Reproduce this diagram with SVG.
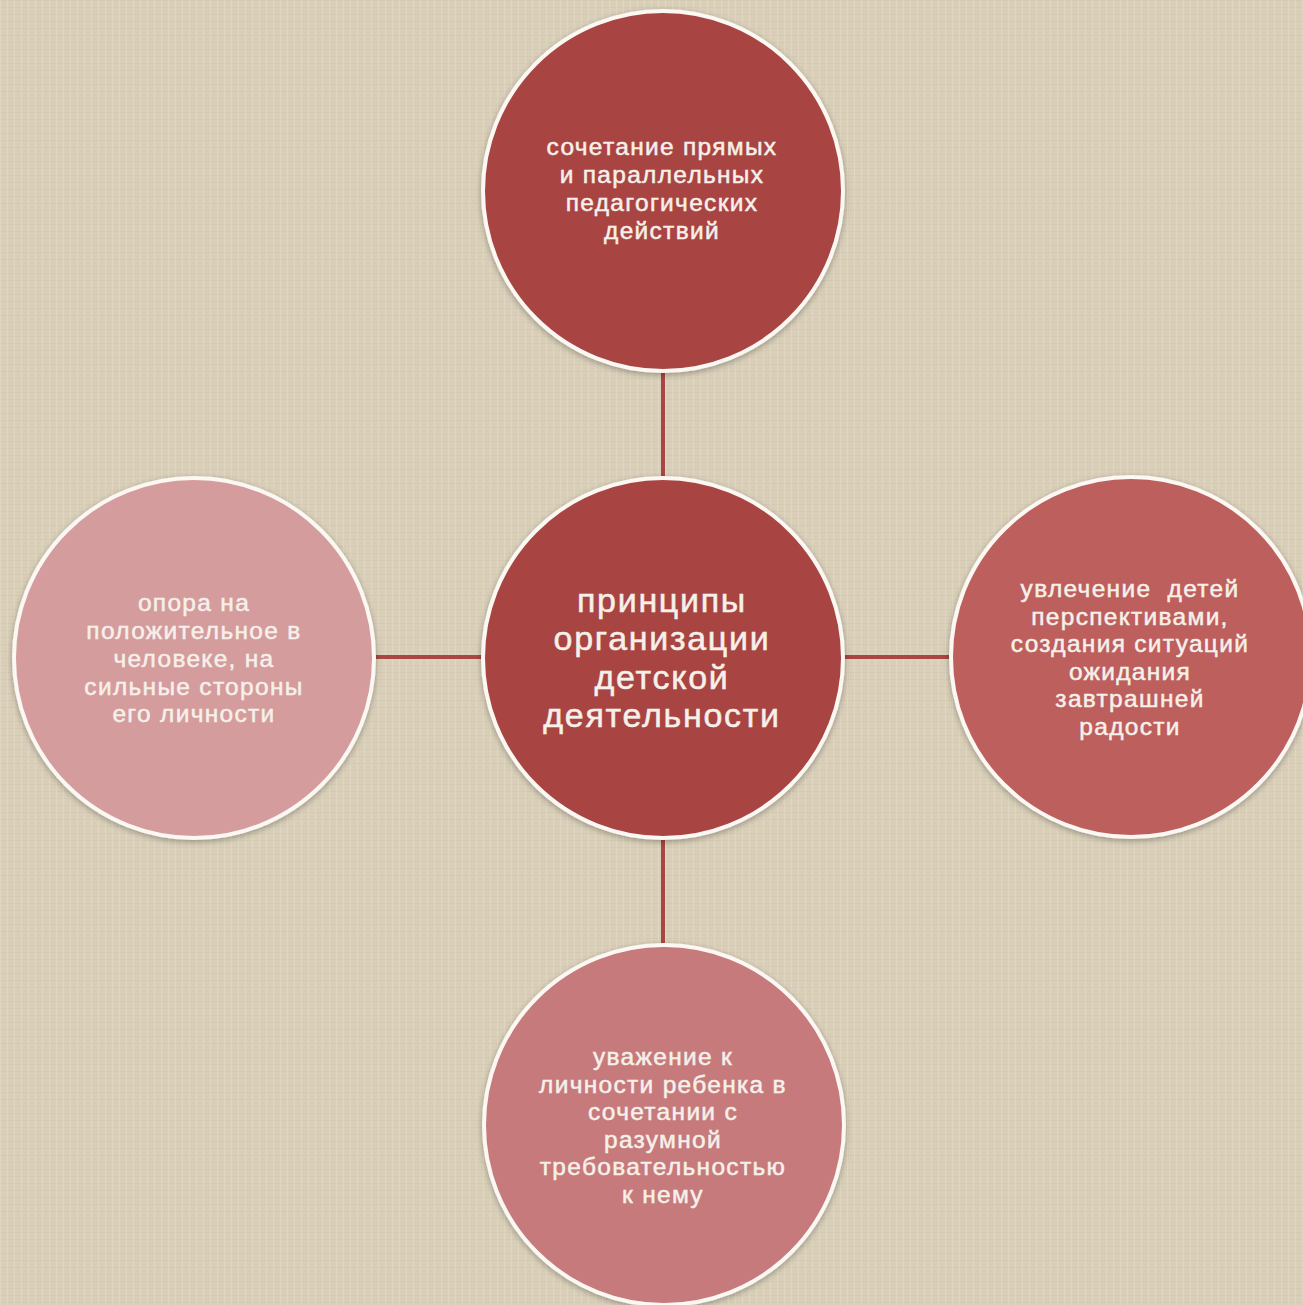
<svg xmlns="http://www.w3.org/2000/svg" width="1303" height="1305" viewBox="0 0 1303 1305">
<defs>
<pattern id="tex" width="7" height="7" patternUnits="userSpaceOnUse">
<rect width="7" height="7" fill="#dad0ba"/>
<rect x="0" y="0" width="7" height="1" fill="#cec3aa" opacity="0.5"/>
<rect x="0" y="0" width="1" height="7" fill="#e4dbc8" opacity="0.6"/>
<rect x="3" y="4" width="2" height="1" fill="#d0c6ae" opacity="0.5"/>
</pattern>
<filter id="sh" x="-10%" y="-10%" width="120%" height="120%">
<feDropShadow dx="0" dy="2" stdDeviation="3" flood-color="#000" flood-opacity="0.3"/>
</filter>
</defs>
<style>
.node circle{stroke:#fbf7f2;stroke-width:4;filter:url(#sh)}
.t{font-family:"Liberation Sans",Arial,sans-serif;fill:#f6f0ea;stroke:#f6f0ea;stroke-width:0.5;text-anchor:middle;font-size:24.5px;letter-spacing:1.3px}
.c{font-size:34px;letter-spacing:1.7px}
.pre{white-space:pre}
.con line{stroke:#a94643;stroke-width:4}
</style>
<rect width="1303" height="1305" fill="url(#tex)"/>
<g class="con">
<line x1="663" y1="372" x2="663" y2="480"/>
<line x1="374" y1="657" x2="484" y2="657"/>
<line x1="843" y1="657" x2="952" y2="657"/>
<line x1="663" y1="836" x2="663" y2="946"/>
</g>
<g id="top" class="node">
<circle cx="663" cy="191" r="180" fill="#a84543"/>
<text class="t"><tspan x="662" y="155">сочетание прямых</tspan><tspan x="662" y="183">и параллельных</tspan><tspan x="662" y="211">педагогических</tspan><tspan x="662" y="239">действий</tspan></text>
</g>
<g id="center" class="node">
<circle cx="663" cy="658" r="180" fill="#a84543"/>
<text class="t c"><tspan x="662" y="612">принципы</tspan><tspan x="662" y="650">организации</tspan><tspan x="662" y="689">детской</tspan><tspan x="662" y="727">деятельности</tspan></text>
</g>
<g id="left" class="node">
<circle cx="194" cy="658" r="180" fill="#d49c9d"/>
<text class="t"><tspan x="194" y="611">опора на</tspan><tspan x="194" y="639">положительное в</tspan><tspan x="194" y="667">человеке, на</tspan><tspan x="194" y="695">сильные стороны</tspan><tspan x="194" y="722">его личности</tspan></text>
</g>
<g id="right" class="node">
<circle cx="1131" cy="657" r="180" fill="#bd5f5c"/>
<text class="t"><tspan class="pre" x="1130" y="597">увлечение  детей</tspan><tspan x="1130" y="625">перспективами,</tspan><tspan x="1130" y="652">создания ситуаций</tspan><tspan x="1130" y="680">ожидания</tspan><tspan x="1130" y="707">завтрашней</tspan><tspan x="1130" y="735">радости</tspan></text>
</g>
<g id="bottom" class="node">
<circle cx="664" cy="1125" r="180" fill="#c67a7b"/>
<text class="t"><tspan x="663" y="1065">уважение к</tspan><tspan x="663" y="1093">личности ребенка в</tspan><tspan x="663" y="1120">сочетании с</tspan><tspan x="663" y="1148">разумной</tspan><tspan x="663" y="1175">требовательностью</tspan><tspan x="663" y="1203">к нему</tspan></text>
</g>
</svg>
